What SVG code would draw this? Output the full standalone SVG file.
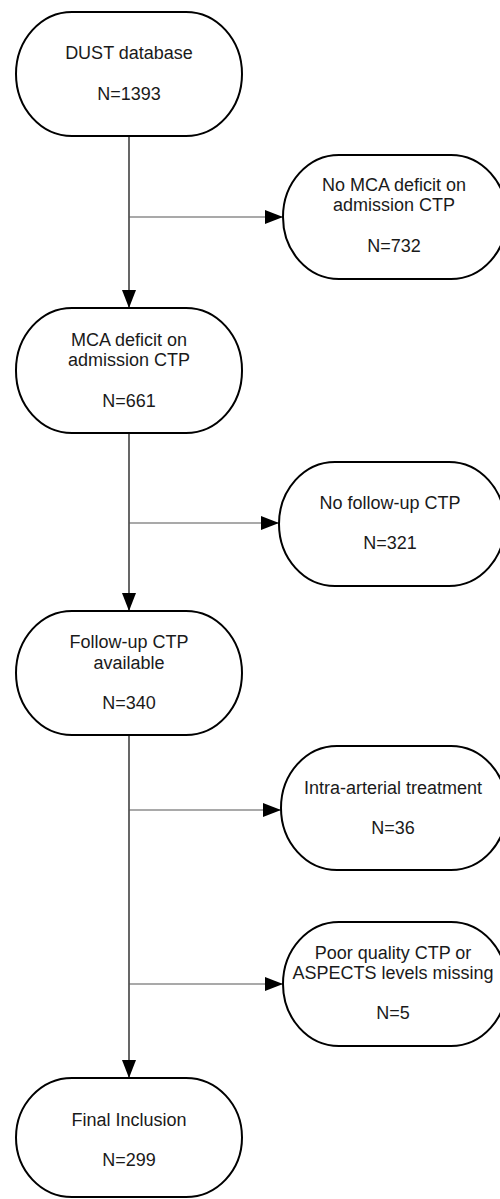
<svg xmlns="http://www.w3.org/2000/svg" width="500" height="1199" viewBox="0 0 500 1199">
<style>
.node{fill:#fff;stroke:#000;stroke-width:2}
.t{font-family:"Liberation Sans",Arial,sans-serif;font-size:18px;fill:#1a1a1a;text-anchor:middle}
.v{stroke:#000;stroke-width:1.2;fill:none}
.h{stroke:#555;stroke-width:1.2;fill:none}
</style>
<defs>
<marker id="arr" markerWidth="18" markerHeight="14" refX="18" refY="7" orient="auto" markerUnits="userSpaceOnUse">
<path d="M0,0 L18,7 L0,14 Z" fill="#000"/>
</marker>
</defs>
<rect width="500" height="1199" fill="#fff"/>
<g id="connectors">
<line class="v" x1="129" y1="136" x2="129" y2="308" marker-end="url(#arr)"/>
<line class="h" x1="129" y1="217" x2="283" y2="217" marker-end="url(#arr)"/>
<line class="v" x1="129" y1="433" x2="129" y2="611" marker-end="url(#arr)"/>
<line class="h" x1="129" y1="523" x2="279" y2="523" marker-end="url(#arr)"/>
<line class="v" x1="129" y1="735" x2="129" y2="1078" marker-end="url(#arr)"/>
<line class="h" x1="129" y1="810" x2="281" y2="810" marker-end="url(#arr)"/>
<line class="h" x1="129" y1="984" x2="283" y2="984" marker-end="url(#arr)"/>
</g>
<g id="n1">
<rect class="node" x="16" y="12" width="226" height="124" rx="56" ry="62"/>
<text class="t" x="129" y="59">DUST database</text>
<text class="t" x="129" y="100">N=1393</text>
</g>
<g id="n2">
<rect class="node" x="283" y="155" width="224" height="124" rx="56" ry="62"/>
<text class="t" x="394" y="191">No MCA deficit on</text>
<text class="t" x="394" y="211">admission CTP</text>
<text class="t" x="394" y="252">N=732</text>
</g>
<g id="n3">
<rect class="node" x="16" y="308" width="226" height="125" rx="56" ry="62"/>
<text class="t" x="129" y="346">MCA deficit on</text>
<text class="t" x="129" y="366">admission CTP</text>
<text class="t" x="129" y="407">N=661</text>
</g>
<g id="n4">
<rect class="node" x="279" y="462" width="226" height="124" rx="56" ry="62"/>
<text class="t" x="390" y="509">No follow-up CTP</text>
<text class="t" x="390" y="549">N=321</text>
</g>
<g id="n5">
<rect class="node" x="16" y="611" width="226" height="124" rx="56" ry="62"/>
<text class="t" x="129" y="648">Follow-up CTP</text>
<text class="t" x="129" y="669">available</text>
<text class="t" x="129" y="709">N=340</text>
</g>
<g id="n6">
<rect class="node" x="281" y="746" width="226" height="124" rx="56" ry="62"/>
<text class="t" x="393" y="794">Intra-arterial treatment</text>
<text class="t" x="393" y="834">N=36</text>
</g>
<g id="n7">
<rect class="node" x="283" y="922" width="224" height="124" rx="56" ry="62"/>
<text class="t" x="393" y="959">Poor quality CTP or</text>
<text class="t" x="393" y="979">ASPECTS levels missing</text>
<text class="t" x="393" y="1019">N=5</text>
</g>
<g id="n8">
<rect class="node" x="16" y="1078" width="226" height="119" rx="56" ry="60"/>
<text class="t" x="129" y="1126">Final Inclusion</text>
<text class="t" x="129" y="1166">N=299</text>
</g>
</svg>
